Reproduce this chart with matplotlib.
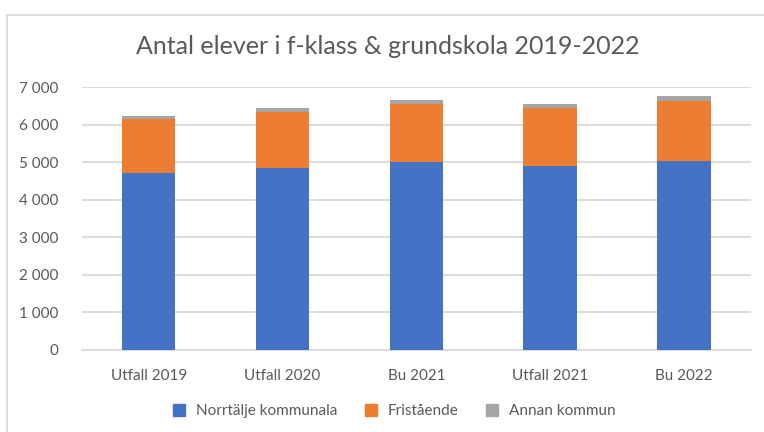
import matplotlib
matplotlib.use("Agg")
import matplotlib.pyplot as plt
from matplotlib.lines import Line2D
from matplotlib.ticker import FuncFormatter, MultipleLocator

categories = ["Utfall 2019", "Utfall 2020", "Bu 2021", "Utfall 2021", "Bu 2022"]
kommunala = [4710, 4860, 5020, 4910, 5035]
fristaende = [1440, 1490, 1540, 1545, 1600]
annan = [90, 100, 105, 100, 125]
series_names = ["Norrtälje kommunala", "Fristående", "Annan kommun"]
colors = ["#4472C4", "#ED7D31", "#A5A5A5"]
title = "Antal elever i f-klass & grundskola 2019-2022"

plt.rcParams["font.family"] = ["Lato", "DejaVu Sans"]
text_color = "#595959"

fig = plt.figure(figsize=(7.64, 4.32), dpi=100)
ax = fig.add_axes([0.107, 0.190, 0.876, 0.608])

x = list(range(len(categories)))
bottom2 = [a + b for a, b in zip(kommunala, fristaende)]
ax.bar(x, kommunala, width=0.4, color=colors[0], zorder=3)
ax.bar(x, fristaende, width=0.4, bottom=kommunala, color=colors[1], zorder=3)
ax.bar(x, annan, width=0.4, bottom=bottom2, color=colors[2], zorder=3)

ax.set_xlim(-0.5, len(categories) - 0.5)
ax.set_ylim(0, 7000)
ax.yaxis.set_major_locator(MultipleLocator(1000))
ax.yaxis.set_major_formatter(FuncFormatter(lambda v, p: f"{int(v):,}".replace(",", " ")))
ax.grid(axis="y", color="#D9D9D9", linewidth=1.3, zorder=0)
for s in ["top", "right", "left"]:
    ax.spines[s].set_visible(False)
ax.spines["bottom"].set_color("#D9D9D9")
ax.spines["bottom"].set_linewidth(1.3)
ax.tick_params(axis="both", length=0, labelsize=11, labelcolor=text_color)
ax.tick_params(axis="y", pad=17)
ax.tick_params(axis="x", pad=14)
ax.set_xticks(x)
ax.set_xticklabels(categories)

fig.text(0.508, 0.893, title, ha="center", va="center", fontsize=18, color=text_color)

handles = [Line2D([0], [0], marker="s", linestyle="none", markersize=8,
                  markerfacecolor=c, markeredgecolor=c) for c in colors]
fig.legend(handles, series_names, loc="center", bbox_to_anchor=(0.51, 0.048), ncol=3,
           frameon=False, fontsize=11, labelcolor=text_color, handletextpad=0.1,
           columnspacing=1.2)

# outer chart frame
fig.add_artist(Line2D([7 / 764, 7 / 764], [0, 1 - 15 / 432], transform=fig.transFigure,
                      color="#D9D9D9", linewidth=1.3))
fig.add_artist(Line2D([7 / 764, 1], [1 - 15 / 432, 1 - 15 / 432], transform=fig.transFigure,
                      color="#D9D9D9", linewidth=1.3))

fig.savefig("out.png", dpi=100)
